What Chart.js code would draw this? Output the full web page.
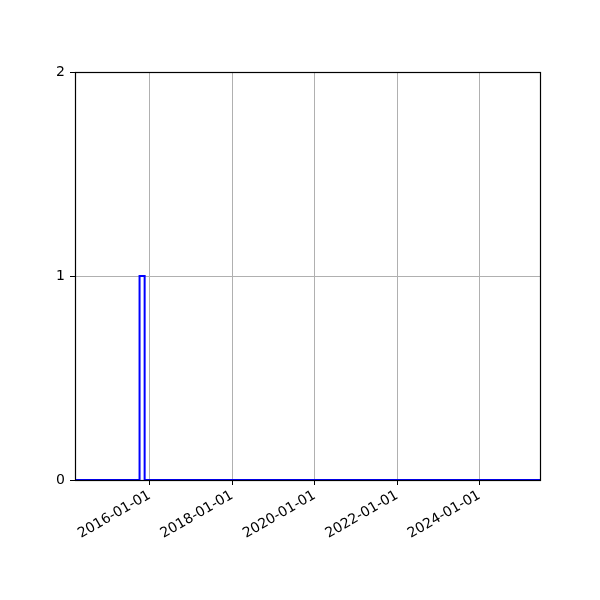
<!DOCTYPE html>
<html>
<head>
<meta charset="utf-8">
<script src="https://cdn.jsdelivr.net/npm/chart.js@4"></script>
<style>
  html, body { margin: 0; padding: 0; background: #fff; }
</style>
</head>
<body>
<canvas id="myChart" width="600" height="600"></canvas>
<script>
// histogram bin edges (dates) and counts per bin
const binEdges = ['2014-03-01', '2015-10-03', '2015-11-17', '2025-07-01'];
const binCounts = [0, 1, 0];
const xTickDates = ['2016-01-01', '2018-01-01', '2020-01-01', '2022-01-01', '2024-01-01'];
const yTicks = [0, 1, 2];
const xRange = ['2014-03-10', '2025-06-20'];

function toMs(s) {
    let p = s.split('-');
    return Date.UTC(+p[0], +p[1] - 1, +p[2]);
}

// outline of step histogram
let points = [];
for (let i = 0; i < binCounts.length; i++) {
    points.push({x: toMs(binEdges[i]), y: binCounts[i]});
    points.push({x: toMs(binEdges[i + 1]), y: binCounts[i]});
}

const frame = {
    id: 'frame',
    afterDraw(chart) {
        let a = chart.chartArea;
        let c = chart.ctx;
        c.save();
        c.strokeStyle = '#000';
        c.lineWidth = 1.2;
        c.strokeRect(Math.round(a.left) + 0.5, Math.round(a.top) + 0.5,
            Math.round(a.right - a.left), Math.round(a.bottom - a.top));
        c.restore();
    }
};

Chart.defaults.font.family = 'DejaVu Sans';
Chart.defaults.font.size = 14;
Chart.defaults.color = '#000';

const chart = new Chart(document.getElementById('myChart'), {
    type: 'line',
    data: {
        datasets: [{
            data: points,
            borderColor: '#0000ff',
            borderWidth: 2,
            pointRadius: 0,
            fill: false,
            tension: 0
        }]
    },
    options: {
        responsive: false,
        animation: false,
        devicePixelRatio: 1,
        layout: {padding: {top: 72, right: 60, left: 0, bottom: 0}},
        plugins: {legend: {display: false}, tooltip: {enabled: false}},
        scales: {
            x: {
                type: 'linear',
                min: toMs(xRange[0]),
                max: toMs(xRange[1]),
                afterBuildTicks: (axis) => {
                    axis.ticks = xTickDates.map(d => ({value: toMs(d)}));
                },
                afterFit: (axis) => { axis.height = 120; },
                grid: {color: '#b0b0b0', lineWidth: 1, tickColor: '#000', tickLength: 5},
                border: {display: false},
                ticks: {
                    minRotation: 30,
                    maxRotation: 30,
                    padding: 2,
                    callback: (v) => new Date(v).toISOString().slice(0, 10)
                }
            },
            y: {
                min: 0,
                max: 2,
                afterBuildTicks: (axis) => {
                    axis.ticks = yTicks.map(v => ({value: v}));
                },
                afterFit: (axis) => { axis.width = 75; },
                grid: {color: '#b0b0b0', lineWidth: 1, tickColor: '#000', tickLength: 5},
                border: {display: false},
                ticks: {padding: 5}
            }
        }
    },
    plugins: [frame]
});
</script>
</body>
</html>
